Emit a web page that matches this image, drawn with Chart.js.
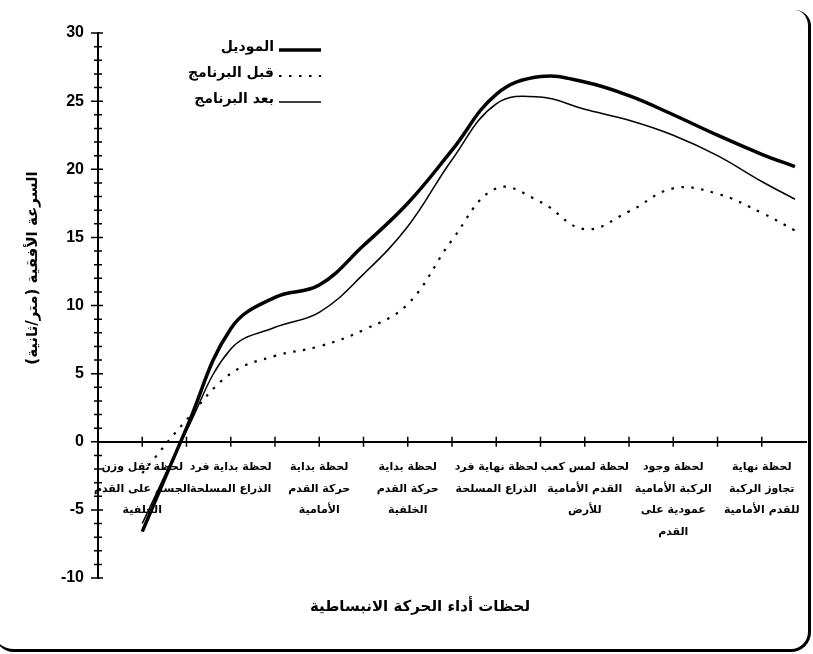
<!DOCTYPE html>
<html>
<head>
<meta charset="utf-8">
<script src="https://cdn.jsdelivr.net/npm/chart.js@4"></script>
<style>
  html, body { margin: 0; padding: 0; background: #fff; }
  #wrap { position: relative; width: 813px; height: 654px; overflow: hidden; }
  #frame {
    position: absolute; left: -6px; top: 10px; width: 817px; height: 642px;
    box-sizing: border-box;
    border-right: 3px solid #000; border-bottom: 3px solid #000;
    border-radius: 0 16px 20px 20px;
  }
  canvas { position: absolute; left: 0; top: 0; }
</style>
</head>
<body>
<div id="wrap">
  <div id="frame"></div>
  <canvas id="speedChart" width="813" height="654"></canvas>
</div>
<script>
// moments of the movement (x-axis labels), placed on odd ticks
const moments = [
  ["لحظة ثقل وزن", "الجسم على القدم", "الخلفية"],
  ["لحظة بداية فرد", "الذراع المسلحة"],
  ["لحظة بداية", "حركة القدم", "الأمامية"],
  ["لحظة بداية", "حركة القدم", "الخلفية"],
  ["لحظة نهاية فرد", "الذراع المسلحة"],
  ["لحظة لمس كعب", "القدم الأمامية", "للأرض"],
  ["لحظة وجود", "الركبة الأمامية", "عمودية على", "القدم"],
  ["لحظة نهاية", "تجاوز الركبة", "للقدم الأمامية"]
];
const momentTicks = [1, 3, 5, 7, 9, 11, 13, 15];

// sample positions along the x-axis and the three curves (m/s)
const samples = [1, 2, 3, 4, 5, 6, 7, 8, 9, 10, 11, 12, 13, 14, 15, 15.75];
const model  = [-6.6, 1.0, 8.3, 10.6, 11.5, 14.4, 17.5, 21.4, 25.5, 26.8, 26.4, 25.4, 24.0, 22.5, 21.1, 20.2];
const before = [-2.3, 1.6, 5.0, 6.3, 7.0, 8.2, 10.1, 14.8, 18.6, 17.6, 15.6, 16.9, 18.6, 18.2, 16.8, 15.5];
const after  = [-6.0, 0.8, 6.8, 8.4, 9.5, 12.3, 15.8, 20.7, 24.8, 25.3, 24.4, 23.6, 22.5, 21.0, 19.1, 17.8];

const seriesNames = ["الموديل", "قبل البرنامج", "بعد البرنامج"];
const yTitle = "السرعة الأفقية (متر/ثانية)";
const xTitle = "لحظات أداء الحركة الانبساطية";

const arabicFont = "DejaVu Sans";

function toPoints(values) {
  return samples.map((x, i) => ({ x: x, y: values[i] }));
}

// tick marks crossing both axes
const crossTicks = {
  id: "crossTicks",
  afterDraw(chart) {
    const { ctx, scales: { x, y } } = chart;
    const y0 = y.getPixelForValue(0);
    const xLeft = chart.chartArea.left;
    ctx.save();
    ctx.strokeStyle = "#000";
    ctx.lineWidth = 1.5;
    ctx.beginPath();
    for (let v = 1; v < x.max; v++) {
      const px = x.getPixelForValue(v);
      ctx.moveTo(px, y0 - 5);
      ctx.lineTo(px, y0 + 5);
    }
    for (let v = y.min; v <= y.max; v++) {
      const py = y.getPixelForValue(v);
      const major = v % 5 === 0;
      ctx.moveTo(xLeft - (major ? 7 : 4), py);
      ctx.lineTo(xLeft + (major ? 5 : 4), py);
    }
    ctx.stroke();
    ctx.restore();
  }
};

// axis titles and the legend drawn inside the plot
const labelsPlugin = {
  id: "labelsPlugin",
  afterDraw(chart) {
    const { ctx } = chart;
    ctx.save();
    ctx.direction = "rtl";
    ctx.fillStyle = "#000";
    ctx.font = "bold 15px '" + arabicFont + "'";
    ctx.textAlign = "center";
    ctx.textBaseline = "middle";
    ctx.fillText(xTitle, 420, 607);

    ctx.save();
    ctx.translate(33, 268);
    ctx.rotate(-Math.PI / 2);
    ctx.fillText(yTitle, 0, 0);
    ctx.restore();

    ctx.font = "bold 14px '" + arabicFont + "'";
    ctx.textAlign = "right";
    chart.data.datasets.forEach((ds, i) => {
      const rowY = 47 + 26 * i;
      ctx.fillText(ds.label, 274, rowY);
      ctx.save();
      ctx.strokeStyle = ds.borderColor;
      ctx.lineWidth = ds.borderWidth;
      ctx.setLineDash(ds.borderDash || []);
      ctx.beginPath();
      ctx.moveTo(279, rowY + 3);
      ctx.lineTo(321, rowY + 3);
      ctx.stroke();
      ctx.restore();
    });
    ctx.restore();
  }
};

const ctx = document.getElementById("speedChart");

new Chart(ctx, {
  type: "line",
  data: {
    datasets: [
      {
        label: seriesNames[0],
        data: toPoints(model),
        borderColor: "#000",
        borderWidth: 3.5,
        pointRadius: 0,
        tension: 0.4,
        fill: false
      },
      {
        label: seriesNames[1],
        data: toPoints(before),
        borderColor: "#000",
        borderWidth: 2.2,
        borderDash: [2.5, 7.5],
        pointRadius: 0,
        tension: 0.4,
        fill: false
      },
      {
        label: seriesNames[2],
        data: toPoints(after),
        borderColor: "#000",
        borderWidth: 1.5,
        pointRadius: 0,
        tension: 0.4,
        fill: false
      }
    ]
  },
  options: {
    responsive: false,
    animation: false,
    devicePixelRatio: 1,
    layout: { padding: { left: 0, right: 5, top: 33, bottom: 76 } },
    plugins: {
      legend: { display: false },
      tooltip: { enabled: false }
    },
    scales: {
      x: {
        type: "linear",
        min: 0,
        max: 16,
        position: { y: 0 },
        grid: { display: false },
        border: { color: "#000", width: 2 },
        ticks: {
          stepSize: 1,
          autoSkip: false,
          maxRotation: 0,
          minRotation: 0,
          padding: 7,
          color: "#000",
          font: { family: arabicFont, weight: "bold", size: 11, lineHeight: 1.95 },
          callback: (v) => {
            const i = momentTicks.indexOf(v);
            return i < 0 ? "" : moments[i];
          }
        }
      },
      y: {
        min: -10,
        max: 30,
        grid: { display: false },
        border: { color: "#000", width: 2 },
        ticks: {
          stepSize: 5,
          padding: 6,
          color: "#000",
          font: { family: "Liberation Sans", weight: "bold", size: 16 }
        },
        afterFit(scale) { scale.width = 98; }
      }
    }
  },
  plugins: [crossTicks, labelsPlugin]
});
</script>
</body>
</html>
